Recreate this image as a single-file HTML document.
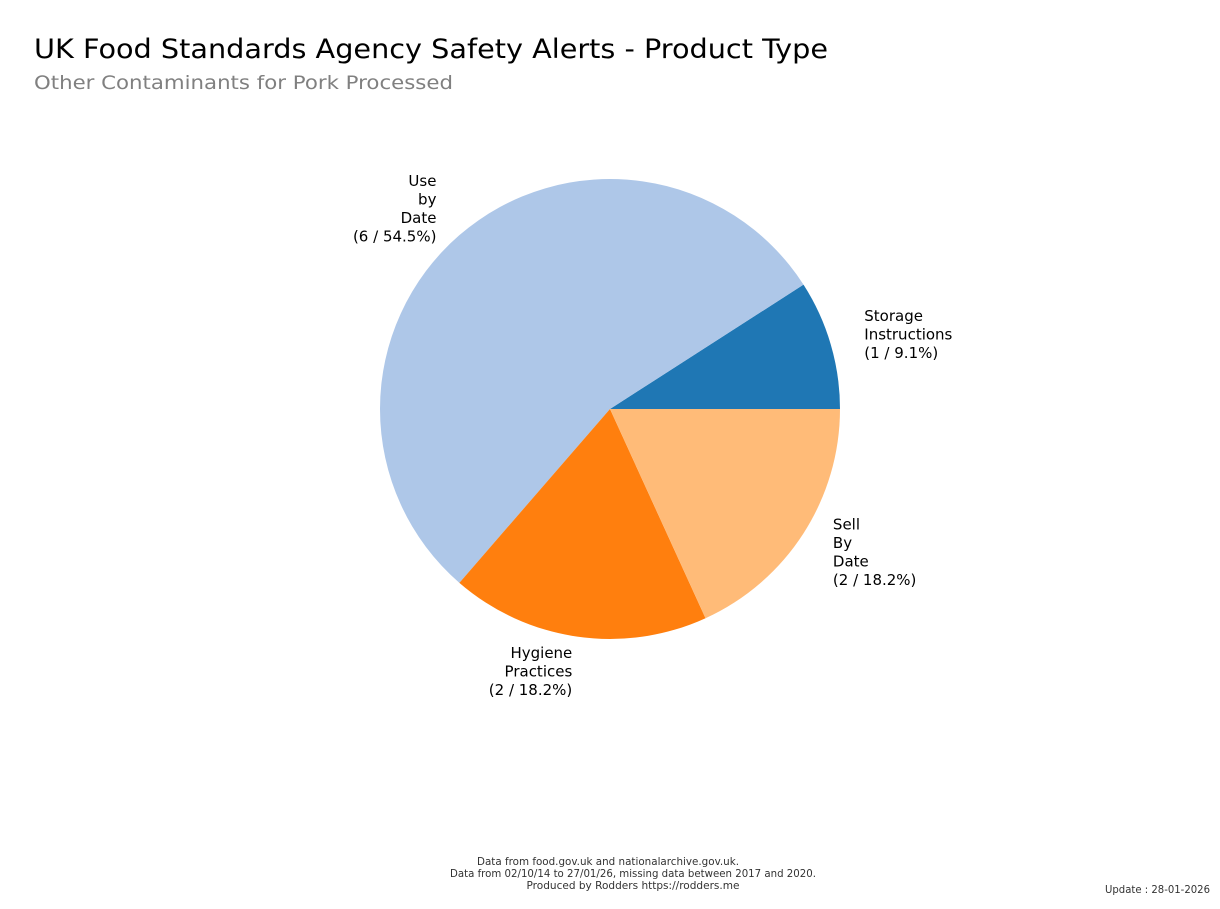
<!DOCTYPE html>
<html><head><meta charset="utf-8"><style>
body{margin:0;background:#fff;width:1220px;height:905px;overflow:hidden;font-family:"DejaVu Sans","Liberation Sans",sans-serif}
</style></head><body>
<svg width="1220" height="905" xmlns="http://www.w3.org/2000/svg">
<text x="34" y="58" font-size="27" fill="#000" font-family="DejaVu Sans, Liberation Sans, sans-serif" textLength="794" lengthAdjust="spacingAndGlyphs">UK Food Standards Agency Safety Alerts - Product Type</text>
<text x="34" y="89" font-size="19" fill="#808080" font-family="DejaVu Sans, Liberation Sans, sans-serif" textLength="419" lengthAdjust="spacingAndGlyphs">Other Contaminants for Pork Processed</text>
<g id="pie"></g>
<g font-size="11" fill="#333" text-anchor="middle" font-family="DejaVu Sans, Liberation Sans, sans-serif">
<text x="608" y="865" textLength="262" lengthAdjust="spacingAndGlyphs">Data from food.gov.uk and nationalarchive.gov.uk.</text>
<text x="633" y="877" textLength="366" lengthAdjust="spacingAndGlyphs">Data from 02/10/14 to 27/01/26, missing data between 2017 and 2020.</text>
<text x="633" y="889" textLength="213" lengthAdjust="spacingAndGlyphs">Produced by Rodders https://rodders.me</text>
</g>
<text x="1210" y="893" font-size="11" fill="#333" text-anchor="end" font-family="DejaVu Sans, Liberation Sans, sans-serif" textLength="105" lengthAdjust="spacingAndGlyphs">Update : 28-01-2026</text>
</svg>
<script>
const categories=[["Storage","Instructions"],["Use","by","Date"],["Hygiene","Practices"],["Sell","By","Date"]];
const values=[1,6,2,2];
const colors=["#1f77b4","#aec7e8","#ff7f0e","#ffbb78"];
const cx=610,cy=409,r=230;
const g=document.getElementById('pie');
const NS="http://www.w3.org/2000/svg";
const total=values.reduce((a,b)=>a+b,0);
let a0=0;
values.forEach((v,i)=>{
  const a1=a0+v/total*2*Math.PI;
  const x0=cx+r*Math.cos(a0),y0=cy-r*Math.sin(a0),x1=cx+r*Math.cos(a1),y1=cy-r*Math.sin(a1);
  const large=(a1-a0)>Math.PI?1:0;
  const p=document.createElementNS(NS,'path');
  p.setAttribute('d',`M${cx},${cy}L${x0},${y0}A${r},${r} 0 ${large} 0 ${x1},${y1}Z`);
  p.setAttribute('fill',colors[i]);
  
  
  g.appendChild(p);
  const am=(a0+a1)/2;
  const c=Math.cos(am);
  const lr=1.1*r+12;
  const lx=cx+lr*c, ly=cy-lr*Math.sin(am);
  const lines=categories[i].concat([`(${v} / ${(v/total*100).toFixed(1)}%)`]);
  const t=document.createElementNS(NS,'text');
  t.setAttribute('font-size','15');
  t.setAttribute('font-family','DejaVu Sans, Liberation Sans, sans-serif');
  t.setAttribute('text-anchor',c>=0?'start':'end');
  
  
  const lh=18.5, start=ly-(lines.length-1)*lh/2+5;
  lines.forEach((s,j)=>{const ts=document.createElementNS(NS,'tspan');ts.setAttribute('x',lx);ts.setAttribute('y',start+j*lh);ts.textContent=s;t.appendChild(ts);});
  g.appendChild(t);
  a0=a1;
});
</script>
</body></html>
